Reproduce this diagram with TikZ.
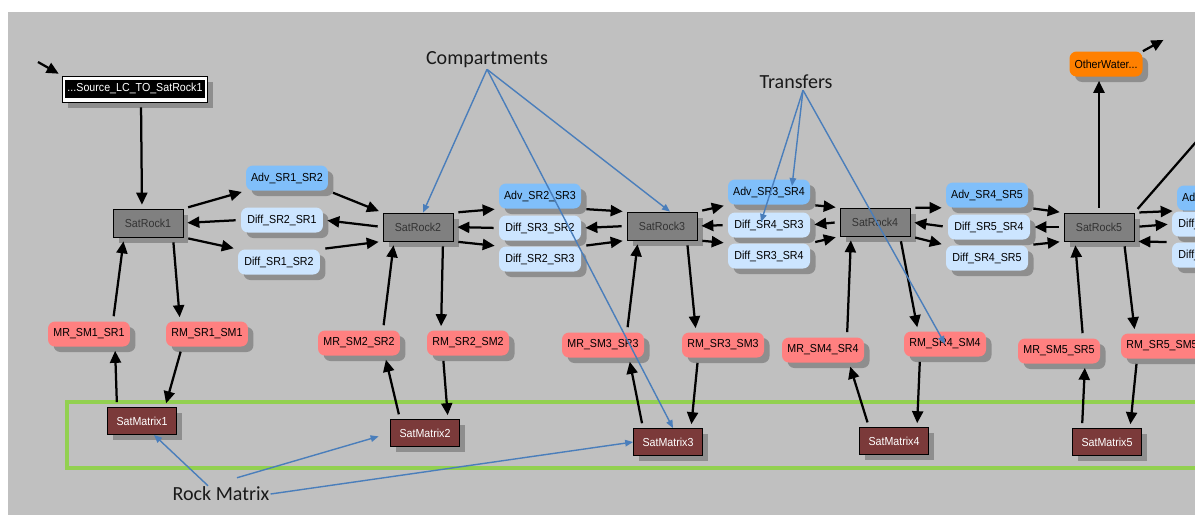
\documentclass[tikz,border=0pt]{standalone}
\usepackage{fontspec}
\usepackage{tikz}
\usetikzlibrary{arrows.meta,calc,shadows}
\newfontfamily\gsfont[FakeStretch=0.92]{Liberation Sans}
\newfontfamily\notefont{Carlito}
\definecolor{bggray}{HTML}{C0C0C0}
\definecolor{shadowgray}{HTML}{8E8E8E}
\definecolor{rockgray}{HTML}{808080}
\definecolor{advblue}{HTML}{80BFFA}
\definecolor{diffblue}{HTML}{CCE5FF}
\definecolor{mrred}{HTML}{FF8080}
\definecolor{matbrown}{HTML}{7B3A3A}
\definecolor{otherorange}{HTML}{FF8000}
\definecolor{boxgreen}{HTML}{92D050}
\definecolor{noteblue}{HTML}{4A7EBB}

\begin{document}
\begin{tikzpicture}[x=0.02cm, y=-0.02cm,
  gs/.style={font=\gsfont\fontsize{6.6}{7}\selectfont, inner sep=1pt,
    general shadow={fill=shadowgray, shadow xshift=0.11cm, shadow yshift=-0.11cm}},
  rock/.style={gs, rectangle, draw=black, fill=rockgray, text=black!80, minimum width=1.4cm, minimum height=0.56cm},
  pill/.style={gs, rounded corners=0.14cm, minimum width=1.64cm, minimum height=0.5cm},
  advbox/.style={pill, fill=advblue},
  diffbox/.style={pill, fill=diffblue},
  xferbox/.style={pill, fill=mrred},
  matrixbox/.style={gs, draw=black, fill=matbrown, text=white, minimum width=1.38cm, minimum height=0.54cm},
  flow/.style={-{Triangle[length=0.24cm, width=0.22cm]}, line width=0.045cm, shorten <=0.1cm, shorten >=0.08cm},
  note/.style={-{Triangle[length=0.16cm, width=0.13cm]}, noteblue, line width=0.028cm},
  notetext/.style={font=\notefont\fontsize{11.4}{13}\selectfont, inner sep=0.5pt, text=black!90}
]
  \useasboundingbox (0,0) rectangle (1195,515);
  \fill[bggray] (8,12) rectangle (1195,515);
  \clip (8,12) rectangle (1195,515);

  % rock matrix band
  \draw[boxgreen, line width=0.07cm] (67,402) rectangle (1240,468);

  % source
  \node[gs, draw=black, fill=white, minimum width=2.9cm, minimum height=0.52cm, inner sep=0pt] (src) at (135,89)
    {\setlength\fboxsep{1.6pt}\colorbox{black}{\textcolor{white}{\strut ...Source\_LC\_TO\_SatRock1}}};
  \coordinate (srcin) at (38,62);

  % compartments
  \foreach \i/\x/\y in {1/148/223, 2/418/227, 3/662/226, 4/875/222, 5/1099/227}
    \node[rock] (sr\i) at (\x,\y) {SatRock\i};

  % rock matrix
  \foreach \i/\x/\y in {1/142/421, 2/425/433, 3/668/442, 4/894/441, 5/1107/442}
    \node[matrixbox] (sm\i) at (\x,\y) {SatMatrix\i};

  % matrix transfers
  \foreach \i/\mx/\my/\rx/\ry in {1/89/334/207/334, 2/359/343/468/343, 3/603/345/723/345, 4/823/350/945/344, 5/1059/351/1162/346} {
    \node[xferbox] (mr\i) at (\mx,\my) {MR\_SM\i\_SR\i};
    \node[xferbox] (rm\i) at (\rx,\ry) {RM\_SR\i\_SM\i};
  }

  % advection and diffusion
  \foreach \ia/\ib/\xa/\ya/\xb/\yb/\xc/\yc in {1/2/287/178/282/220/279/262, 2/3/540/196/540/228/540/259, 3/4/769/192/769/225/769/256, 4/5/987/195/989/227/987/258} {
    \node[advbox] (adv\ia\ib) at (\xa,\ya) {Adv\_SR\ia\_SR\ib};
    \node[diffbox] (dm\ia\ib) at (\xb,\yb) {Diff\_SR\ib\_SR\ia};
    \node[diffbox] (db\ia\ib) at (\xc,\yc) {Diff\_SR\ia\_SR\ib};
  }
  \node[advbox] (adv56) at (1218,198) {Adv\_SR5\_SR6};
  \node[diffbox] (dm56) at (1213,224) {Diff\_SR5\_SR6};
  \node[diffbox] (db56) at (1213,255) {Diff\_SR6\_SR5};

  \node[pill, fill=otherorange, minimum width=1.46cm] (ow) at (1106,64) {OtherWater...};
  \coordinate (owout) at (1167,38);
  \coordinate (offright) at (1230,103);

  % flows
  \draw[flow, shorten <=0pt] (srcin) -- (src.north west);
  \draw[flow] ([xshift=0.12cm]src.south) -- ([xshift=-0.12cm]sr1.north);
  \draw[flow] (sr5.north) -- (sr5.north |- ow.south);
  \draw[flow, shorten <=0pt] (ow.north east) -- (owout);
  \draw[flow, -] (sr5.north east) -- (offright);

  \foreach \i in {1,...,5} {
    \draw[flow] ($(mr\i.north)+(24,0)$) -- ($(sr\i.south)+(-24,0)$);
    \draw[flow] ($(sr\i.south)+(25,0)$) -- ($(rm\i.north)+(-27,0)$);
    \draw[flow] ($(sm\i.north)+(-25,0)$) -- ($(mr\i.south)+(26,0)$);
    \draw[flow] ($(rm\i.south)+(-25,0)$) -- ($(sm\i.north)+(23,0)$);
  }

  \foreach \ia/\ib in {1/2, 2/3, 3/4, 4/5} {
    \draw[flow] (sr\ia.north east) -- (adv\ia\ib.south west);
    \draw[flow] (dm\ia\ib.west) -- (sr\ia.east);
    \draw[flow] (sr\ia.south east) -- (db\ia\ib.north west);
    \draw[flow] (adv\ia\ib.south east) -- (sr\ib.north west);
    \draw[flow] (sr\ib.west) -- (dm\ia\ib.east);
    \draw[flow] (db\ia\ib.north east) -- (sr\ib.south west);
  }
  \draw[flow] (sr5.north east) -- (adv56.south west);
  \draw[flow] (sr5.east) -- (dm56.west);
  \draw[flow] (db56.north west) -- (sr5.south east);

  % annotations
  \node[notetext] (comp) at (487,60) {Compartments};
  \node[notetext] (trans) at (796,82) {Transfers};
  \node[notetext] (rockm) at (221,494) {Rock Matrix};

  \draw[note] (comp.south) -- ([xshift=0.1cm]sr2.north);
  \draw[note] (comp.south) -- ([xshift=0.16cm]sr3.north);
  \draw[note] (comp.south) -- ([xshift=0.1cm]sm3.north);
  \draw[note] ([xshift=0.14cm]trans.south) -- ([xshift=0.46cm, yshift=0.12cm]adv34.center);
  \draw[note] ([xshift=0.14cm]trans.south) -- ([xshift=-0.16cm, yshift=0.06cm]dm34.center);
  \draw[note] ([xshift=0.14cm]trans.south) -- (rm4.center);
  \draw[note] ([xshift=-0.26cm]rockm.north) -- ([xshift=0.24cm]sm1.south);
  \draw[note, shorten >=0.24cm] ([xshift=0.32cm, yshift=0.16cm]rockm.north) -- (sm2.west);
  \draw[note] (rockm.east) -- (sm3.west);
\end{tikzpicture}
\end{document}
